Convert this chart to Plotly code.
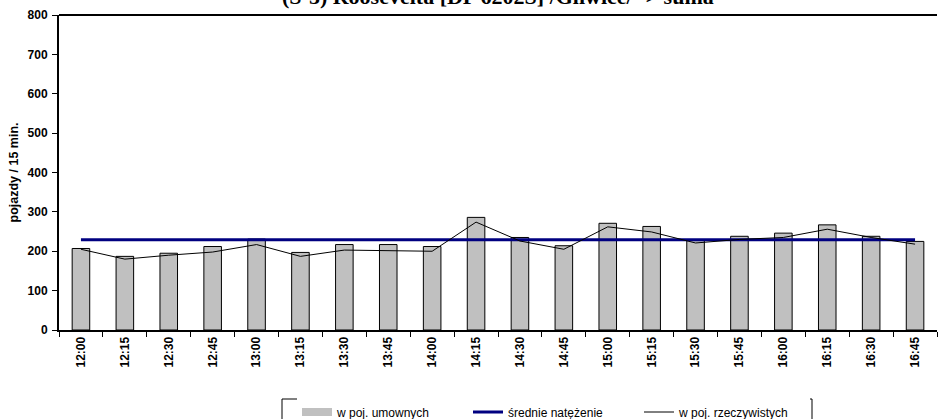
import plotly.graph_objects as go

categories = ["12:00", "12:15", "12:30", "12:45", "13:00", "13:15", "13:30", "13:45", "14:00", "14:15",
              "14:30", "14:45", "15:00", "15:15", "15:30", "15:45", "16:00", "16:15", "16:30", "16:45"]
umownych = [207, 187, 195, 212, 231, 197, 217, 217, 212, 286,
            235, 214, 271, 263, 228, 238, 246, 267, 238, 225]
rzeczywistych = [205, 180, 190, 198, 217, 187, 203, 202, 200, 274,
                 226, 205, 262, 249, 221, 230, 235, 256, 235, 218]
srednie = [229] * len(categories)
y_ticks = [0, 100, 200, 300, 400, 500, 600, 700, 800]

title_text = "(S-5) Roosevelta [DP 6202S] /Gliwice/ -> suma"

SANS = "Liberation Sans, Arial"

fig = go.Figure()
fig.add_trace(go.Bar(
    x=categories, y=umownych, name="w poj. umownych",
    marker=dict(color="#C0C0C0", line=dict(color="#000000", width=1)),
    width=0.4, showlegend=False,
))
# legend entry for the bars (wide grey swatch as in the reference)
fig.add_trace(go.Scatter(
    x=[None], y=[None], name="w poj. umownych", mode="lines",
    line=dict(color="#C0C0C0", width=8),
))
fig.add_trace(go.Scatter(
    x=categories, y=srednie, name="średnie natężenie", mode="lines",
    line=dict(color="#000080", width=3),
))
fig.add_trace(go.Scatter(
    x=categories, y=rzeczywistych, name="w poj. rzeczywistych", mode="lines",
    line=dict(color="#000000", width=1),
))

fig.update_layout(
    width=938, height=419,
    margin=dict(l=59, r=1, t=15, b=89),
    paper_bgcolor="white", plot_bgcolor="white",
    showlegend=True,
    legend=dict(
        orientation="h", x=(297 - 59) / 878, xanchor="left",
        yref="container", y=(419 - 397.5) / 419, yanchor="top",
        borderwidth=0,
        font=dict(family=SANS, size=12, color="#000000"),
        entrywidth=126, entrywidthmode="pixels",
        traceorder="normal",
    ),
    font=dict(family=SANS, color="#000000"),
)

fig.update_xaxes(
    type="category", automargin=False,
    showline=True, linecolor="#000000", linewidth=2,
    ticks="outside", ticklen=5, tickcolor="#000000", tickwidth=1,
    tickson="boundaries",
    tickangle=-90,
    tickfont=dict(family=SANS, size=12, color="#000000", weight="bold"),
    showgrid=False, zeroline=False,
)
fig.update_yaxes(
    range=[0, 800], tickvals=y_ticks, automargin=False,
    showline=True, linecolor="#000000", linewidth=2,
    ticks="outside", ticklen=5, tickcolor="#000000", tickwidth=1,
    ticklabelstandoff=2,
    tickfont=dict(family=SANS, size=12, color="#000000", weight="bold"),
    showgrid=False, zeroline=False,
    title=dict(text="pojazdy / 15 min.", standoff=6,
               font=dict(family=SANS, size=12.5, color="#000000", weight="bold")),
)

# top border of plot area
fig.add_shape(type="line", xref="paper", yref="paper", x0=0, x1=1, y0=1, y1=1,
              line=dict(color="#000000", width=2))

# legend frame (runs off the bottom edge as in the reference)
fig.add_shape(type="rect", xref="paper", yref="paper",
              x0=(282 - 59) / 878, x1=(812 - 59) / 878,
              y0=(330 - 430) / 315, y1=(330 - 399) / 315,
              line=dict(color="#000000", width=1), fillcolor="rgba(0,0,0,0)", layer="below")

fig.add_annotation(
    text="<b>" + title_text + "</b>", xref="paper", yref="paper",
    x=0.5, y=1.012, xanchor="center", yanchor="bottom", showarrow=False,
    font=dict(family="Liberation Serif, Times New Roman", size=22, color="#000000"),
)

fig.write_html("out.html", config={"displayModeBar": False},
               post_script="document.body.style.margin='0';")
